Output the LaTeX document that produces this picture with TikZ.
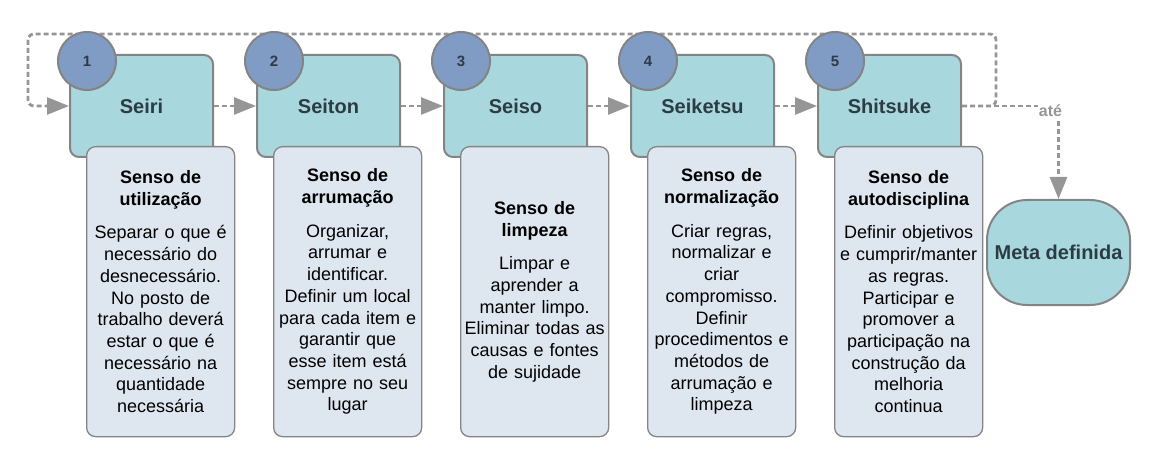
\documentclass[tikz,border=0pt]{standalone}
\usepackage{fontspec}
\setmainfont{Liberation Sans}
\usepackage{tikz}
\usetikzlibrary{arrows.meta,positioning}

\definecolor{caixa}{RGB}{168,216,222}
\definecolor{bola}{RGB}{128,156,196}
\definecolor{nota}{RGB}{222,231,240}
\definecolor{borda}{RGB}{132,132,132}
\definecolor{traco}{RGB}{150,150,150}
\definecolor{escuro}{RGB}{44,60,68}

\begin{document}
\begin{tikzpicture}[x=1pt,y=1pt,
    fase/.style={draw=borda, line width=2pt, fill=caixa, rounded corners=9pt,
      minimum width=143pt, minimum height=102pt, inner sep=0pt,
      text=escuro, font=\fontsize{20}{24}\selectfont\bfseries},
    num/.style={circle, draw=borda, line width=2pt, fill=bola,
      minimum size=58pt, inner sep=0pt, text=escuro,
      font=\fontsize{15}{17}\selectfont\bfseries},
    senso/.style={draw=borda, line width=1.3pt, fill=nota, rounded corners=9pt,
      minimum width=148pt, minimum height=290pt, inner sep=1pt,
      text width=146pt, align=center, font=\fontsize{18}{21.7}\selectfont},
    alvo/.style={draw=borda, line width=2pt, fill=caixa, rounded corners=40pt,
      minimum width=143pt, minimum height=105pt, inner sep=0pt,
      text=escuro, font=\fontsize{20}{24}\selectfont\bfseries},
    fluxo/.style={-{Triangle[length=22pt,width=17pt,fill=traco]}, draw=traco,
      line width=2.8pt, dash pattern=on 5pt off 3pt},
    rotulo/.style={fill=white, inner sep=1pt, text=traco,
      font=\fontsize{16}{18}\selectfont\bfseries}]
  \useasboundingbox (0,0) rectangle (1150,-454);

  \node[fase] (seiri)    at (141.5,-106)            {Seiri};
  \node[fase] (seiton)   [right=42pt of seiri]     {Seiton};
  \node[fase] (seiso)    [right=42pt of seiton]    {Seiso};
  \node[fase] (seiketsu) [right=42pt of seiso]     {Seiketsu};
  \node[fase] (shitsuke) [right=42pt of seiketsu]  {Shitsuke};
  \node[alvo] (meta)     at (1058.5,-252.5)         {Meta definida};

  \coordinate (voltaNE) at (996,-34);
  \coordinate (voltaNW) at (28,-34);

  \draw[fluxo] (seiri) -- (seiton);
  \draw[fluxo] (seiton) -- (seiso);
  \draw[fluxo] (seiso) -- (seiketsu);
  \draw[fluxo] (seiketsu) -- (shitsuke);
  \draw[fluxo, rounded corners=6pt]
        (shitsuke.east) -| (voltaNE) -- (voltaNW) |- (seiri.west);
  \draw[fluxo] (shitsuke.east) -| node[rotulo, pos=0.5, xshift=-8pt, yshift=-5pt] {até} (meta.north);

  \node[num] (n1) at ([shift={(18pt,-7pt)}]seiri.north west)    {1};
  \node[num] (n2) at ([shift={(18pt,-7pt)}]seiton.north west)   {2};
  \node[num] (n3) at ([shift={(18pt,-7pt)}]seiso.north west)    {3};
  \node[num] (n4) at ([shift={(18pt,-7pt)}]seiketsu.north west) {4};
  \node[num] (n5) at ([shift={(18pt,-7pt)}]shitsuke.north west) {5};

  \node[senso] (s1) [below right=-12pt and 17pt of seiri.south west]
    {\textbf{Senso de}\\\textbf{utilização}\\[12pt]
     Separar o que é\\necessário do\\desnecessário.\\No posto de\\trabalho deverá\\estar o que é\\necessário na\\quantidade\\necessária};
  \node[senso] (s2) [below right=-12pt and 17pt of seiton.south west]
    {\textbf{Senso de}\\\textbf{arrumação}\\[12pt]
     Organizar,\\arrumar e\\identificar.\\Definir um local\\para cada item e\\garantir que\\esse item está\\sempre no seu\\lugar};
  \node[senso] (s3) [below right=-12pt and 17pt of seiso.south west]
    {\textbf{Senso de}\\\textbf{limpeza}\\[12pt]
     Limpar e\\aprender a\\manter limpo.\\Eliminar todas as\\causas e fontes\\de sujidade};
  \node[senso] (s4) [below right=-12pt and 17pt of seiketsu.south west]
    {\textbf{Senso de}\\\textbf{normalização}\\[12pt]
     Criar regras,\\normalizar e\\criar\\compromisso.\\Definir\\procedimentos e\\métodos de\\arrumação e\\limpeza};
  \node[senso] (s5) [below right=-12pt and 17pt of shitsuke.south west]
    {\textbf{Senso de}\\\textbf{autodisciplina}\\[12pt]
     Definir objetivos\\e cumprir/manter\\as regras.\\Participar e\\promover a\\participação na\\construção da\\melhoria\\continua};
\end{tikzpicture}
\end{document}
